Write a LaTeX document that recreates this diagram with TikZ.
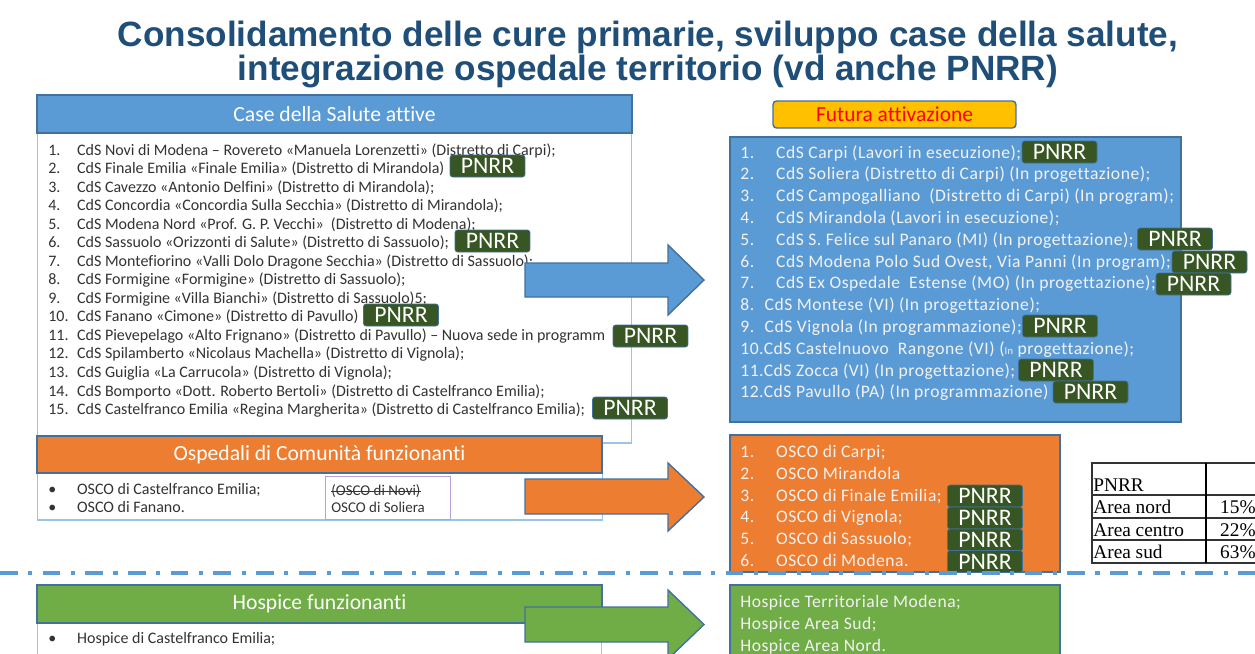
\documentclass[tikz,border=0pt]{standalone}
\usepackage{fontspec}
\setmainfont{Carlito}[Ligatures=NoCommon]
\newfontfamily\titlefont{Liberation Sans}
\newfontfamily\tablefont{Liberation Serif}
\newfontfamily\widefont{Carlito}[LetterSpace=3, Ligatures=NoCommon]
\definecolor{cdsBlue}{HTML}{5B9BD5}
\definecolor{cdsEdge}{HTML}{41719C}
\definecolor{cdsLight}{HTML}{9DC3E6}
\definecolor{oscoOrange}{HTML}{ED7D31}
\definecolor{hospGreen}{HTML}{70AD47}
\definecolor{tagGreen}{HTML}{375623}
\definecolor{futYellow}{HTML}{FFC000}
\definecolor{titleBlue}{HTML}{1F4E79}
\definecolor{textGray}{HTML}{333333}
\definecolor{boxPurple}{HTML}{B4A0DC}
\newcommand\lnr[1]{\makebox[16.4pt][l]{#1}}
\newcommand\rnr[1]{\makebox[20.4pt][l]{#1}}
\tikzset{
  title/.style={align=center, text=titleBlue, inner sep=0, font=\titlefont\bfseries\fontsize{20}{19.8}\selectfont},
  header/.style={draw=cdsEdge, line width=0.8pt, text=white, inner sep=0, font=\fontsize{12.3}{14}\selectfont},
  listbox/.style={draw=cdsLight, line width=0.6pt, fill=white, inner sep=0},
  colbox/.style={draw=cdsEdge, line width=0.8pt, inner sep=0},
  pnrr/.style={fill=tagGreen, draw=cdsEdge, rounded corners=1.5pt, text=white, minimum width=1.5cm, minimum height=0.44cm, inner sep=0, font=\fontsize{13.5}{13.5}\selectfont},
  lefttext/.style={anchor=north west, inner sep=0, align=left, text=textGray, font=\fontsize{9.1}{10.55}\selectfont},
  righttext/.style={anchor=north west, inner sep=0, align=left, text=white!95!black, font=\widefont\fontsize{10}{12.4}\selectfont},
  bigarrow/.style={draw=cdsEdge, line width=0.8pt},
  sepline/.style={cdsBlue, line width=2.3pt, dash pattern=on 10pt off 6pt on 2.3pt off 6pt},
  tabtext/.style={inner sep=0, font=\tablefont\fontsize{11}{11}\selectfont}
}
\begin{document}
\begin{tikzpicture}[x=0.02cm, y=-0.02cm]
	\useasboundingbox (0,0) rectangle (1255,653);
	\node[title] (title) at (648,54.5) {Consolidamento delle cure primarie, sviluppo case della salute,\\integrazione ospedale territorio (vd anche PNRR)};
	% case della salute attive
	\node[listbox, minimum width=11.9cm, minimum height=6.2cm] (cdsbox) at (334.5,288) {};
	\node[header, fill=cdsBlue, minimum width=11.9cm, minimum height=0.76cm] (cdshead) at (334.5,114) {Case della Salute attive};
	\node[lefttext] (cdslist) at (48,143) {%
		\lnr{1.}CdS Novi di Modena – Rovereto «Manuela Lorenzetti» (Distretto di Carpi);\\
		\lnr{2.}CdS Finale Emilia «Finale Emilia» (Distretto di Mirandola)\\
		\lnr{3.}CdS Cavezzo «Antonio Delfini» (Distretto di Mirandola);\\
		\lnr{4.}CdS Concordia «Concordia Sulla Secchia» (Distretto di Mirandola);\\
		\lnr{5.}CdS Modena Nord «Prof. G. P. Vecchi»~ (Distretto di Modena);\\
		\lnr{6.}CdS Sassuolo «Orizzonti di Salute» (Distretto di Sassuolo);\\
		\lnr{7.}CdS Montefiorino «Valli Dolo Dragone Secchia» (Distretto di Sassuolo);\\
		\lnr{8.}CdS Formigine «Formigine» (Distretto di Sassuolo);\\
		\lnr{9.}CdS Formigine «Villa Bianchi» (Distretto di Sassuolo)5;\\
		\lnr{10.}CdS Fanano «Cimone» (Distretto di Pavullo)\\
		\lnr{11.}CdS Pievepelago «Alto Frignano» (Distretto di Pavullo) – Nuova sede in programm\\
		\lnr{12.}CdS Spilamberto «Nicolaus Machella» (Distretto di Vignola);\\
		\lnr{13.}CdS Guiglia «La Carrucola» (Distretto di Vignola);\\
		\lnr{14.}CdS Bomporto «Dott. Roberto Bertoli» (Distretto di Castelfranco Emilia);\\
		\lnr{15.}CdS Castelfranco Emilia «Regina Margherita» (Distretto di Castelfranco Emilia);};
	\node[pnrr] (tagL2) at (487.5,166) {PNRR};
	\node[pnrr] (tagL6) at (492.5,241) {PNRR};
	\node[pnrr] (tagL10) at (401,315) {PNRR};
	\node[pnrr] (tagL11) at (650.5,336) {PNRR};
	\node[pnrr] (tagL15) at (630,408) {PNRR};
	% ospedali di comunita
	\node[listbox, minimum width=11.32cm, minimum height=0.94cm] (oscobox) at (320,496.5) {};
	\node[header, fill=oscoOrange, minimum width=11.3cm, minimum height=0.74cm] (oscohead) at (319.5,454.5) {Ospedali di Comunità funzionanti};
	\node[lefttext] (oscolist) at (48,483) {\lnr{•}OSCO di Castelfranco Emilia;\\\lnr{•}OSCO di Fanano.};
	\node[draw=boxPurple, line width=0.5pt, minimum width=2.5cm, minimum height=0.86cm, inner sep=0] (novibox) at (387.5,497.5) {};
	\node[lefttext, font=\fontsize{8.5}{10.2}\selectfont] (novi) at (331,484) {(OSCO di Novi)};
	\node[lefttext, font=\fontsize{8.5}{10.2}\selectfont] (soliera) at (331,502) {OSCO di Soliera};
	\draw[textGray, line width=0.4pt] (novi.west) -- (novi.east);
	% hospice
	\node[listbox, minimum width=11.3cm, minimum height=0.94cm] (hospbox) at (319.5,646.5) {};
	\node[header, fill=hospGreen, minimum width=11.3cm, minimum height=0.76cm] (hosphead) at (319.5,604) {Hospice funzionanti};
	\node[lefttext] (hosplist) at (48,632) {\lnr{•}Hospice di Castelfranco Emilia;};
	% frecce
	\filldraw[bigarrow, fill=cdsBlue] (525,263) -- (668,263) -- (668,245) -- (704,280) -- (668,315) -- (668,297) -- (525,297) -- cycle;
	\filldraw[bigarrow, fill=oscoOrange] (525,479) -- (668,479) -- (668,463) -- (704,497) -- (668,531) -- (668,514) -- (525,514) -- cycle;
	\filldraw[bigarrow, fill=hospGreen] (525,607) -- (668,607) -- (668,590) -- (704,624.5) -- (668,659) -- (668,642) -- (525,642) -- cycle;
	% futura attivazione
	\node[colbox, fill=futYellow, rounded corners=2pt, text=red, minimum width=4.86cm, minimum height=0.54cm, font=\fontsize{12.2}{13}\selectfont] (futura) at (894.5,114.5) {Futura attivazione};
	\node[colbox, fill=cdsBlue, minimum width=9.02cm, minimum height=5.7cm] (futbox) at (955.5,279.5) {};
	\node[righttext] (futlist) at (740,145) {%
		\rnr{1.}CdS Carpi (Lavori in esecuzione);\\
		\rnr{2.}CdS Soliera (Distretto di Carpi) (In progettazione);\\
		\rnr{3.}CdS Campogalliano~ (Distretto di Carpi) (In program);\\
		\rnr{4.}CdS Mirandola (Lavori in esecuzione);\\
		\rnr{5.}CdS S. Felice sul Panaro (MI) (In progettazione);\\
		\rnr{6.}CdS Modena Polo Sud Ovest, Via Panni (In program);\\
		\rnr{7.}CdS Ex Ospedale~ Estense (MO) (In progettazione);\\
		8.~ CdS Montese (VI) (In progettazione);\\
		9.~ CdS Vignola (In programmazione);\\
		10.CdS Castelnuovo~ Rangone (VI) ({\fontsize{6}{6}\selectfont In} progettazione);\\
		11.CdS Zocca (VI) (In progettazione);\\
		12.CdS Pavullo (PA) (In programmazione)};
	\node[pnrr] (tagR1) at (1059.5,152) {PNRR};
	\node[pnrr] (tagR5) at (1175,239) {PNRR};
	\node[pnrr] (tagR6) at (1209.5,262) {PNRR};
	\node[pnrr] (tagR7) at (1193.5,284) {PNRR};
	\node[pnrr] (tagR9) at (1060,326) {PNRR};
	\node[pnrr] (tagR11) at (1056,370) {PNRR};
	\node[pnrr] (tagR12) at (1090.5,392) {PNRR};
	\node[colbox, fill=oscoOrange, minimum width=6.6cm, minimum height=2.74cm] (oscofut) at (895,503.5) {};
	\node[righttext] (oscofutlist) at (740,445) {%
		\rnr{1.}OSCO di Carpi;\\
		\rnr{2.}OSCO Mirandola\\
		\rnr{3.}OSCO di Finale Emilia;\\
		\rnr{4.}OSCO di Vignola;\\
		\rnr{5.}OSCO di Sassuolo;\\
		\rnr{6.}OSCO di Modena.};
	\node[pnrr] (tagO3) at (985,496) {PNRR};
	\node[pnrr] (tagO4) at (985,518) {PNRR};
	\node[pnrr] (tagO5) at (985,540) {PNRR};
	\node[pnrr] (tagO6) at (985,561.5) {PNRR};
	\node[colbox, fill=hospGreen, minimum width=6.6cm, minimum height=1.7cm] (hospfut) at (895,627.5) {};
	\node[righttext] (hospfutlist) at (740,595) {Hospice Territoriale Modena;\\Hospice Area Sud;\\Hospice Area Nord.};
	% tabella PNRR
	\draw[black!80, line width=0.6pt] (1092,463) rectangle (1262,563);
	\draw[black!80, line width=0.6pt] (1092,495) -- (1262,495) (1092,518) -- (1262,518) (1092,540) -- (1262,540);
	\draw[black, line width=0.8pt] (1206,463) -- (1206,563);
	\node[tabtext, anchor=base west] (tabhead) at (1093,491) {PNRR};
	\node[tabtext, anchor=base west] (tabnord) at (1093,513) {Area nord};
	\node[tabtext, anchor=base west] (tabcentro) at (1093,536) {Area centro};
	\node[tabtext, anchor=base west] (tabsud) at (1093,558) {Area sud};
	\node[tabtext, anchor=base east] (pctnord) at (1256,513) {15\%};
	\node[tabtext, anchor=base east] (pctcentro) at (1256,536) {22\%};
	\node[tabtext, anchor=base east] (pctsud) at (1256,558) {63\%};
	% separatore
	\draw[sepline] (0,573) -- (1255,573);
\end{tikzpicture}
\end{document}
